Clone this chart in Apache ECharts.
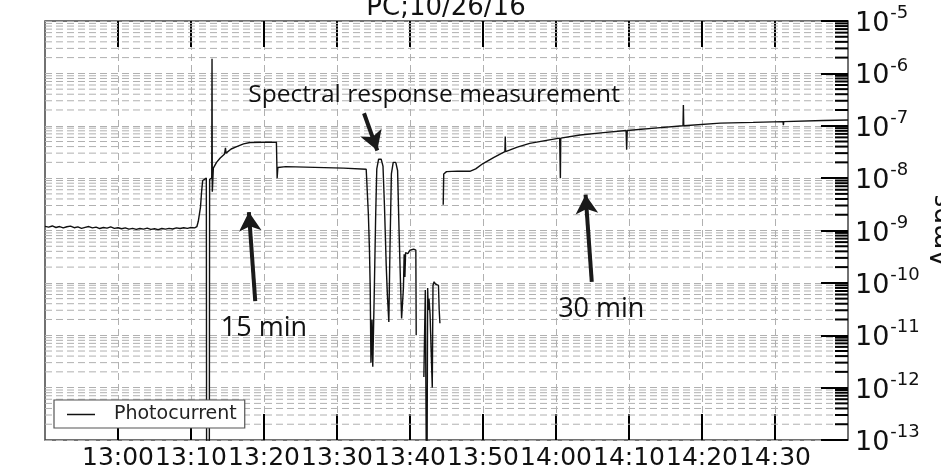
<!DOCTYPE html>
<html>
<head>
<meta charset="utf-8">
<title>PC;10/26/16</title>
<script src="https://cdn.jsdelivr.net/npm/echarts@6/dist/echarts.min.js"></script>
<style>
  html, body { margin: 0; padding: 0; background: #fff; }
  #chart { width: 941px; height: 469px; }
</style>
</head>
<body>
<div id="chart"></div>
<script>
// time in minutes after midnight (12:50 = 770), current in amps; null = gap in the record
const minutes = [
  770.0, 770.5, 771.0, 771.5, 772.0, 772.5, 773.0, 773.5, 774.0, 774.5,
  775.0, 775.5, 776.0, 776.5, 777.0, 777.5, 778.0, 778.5, 779.0, 779.5,
  780.0, 780.5, 781.0, 781.5, 782.0, 782.5, 783.0, 783.5, 784.0, 784.5,
  785.0, 785.5, 786.0, 786.5, 787.0, 787.5, 788.0, 788.5, 789.0, 789.5,
  790.0, 790.5, 790.8, 791.0, 791.3, 791.45, 791.6, 792.1, 792.15, 792.5,
  792.55, 792.84, 792.88, 792.92, 793.06, 793.5, 793.97, 794.6, 794.72, 794.8,
  795.5, 796.26, 797.2, 798.08, 799.9, 801.7, 801.8, 801.9, 803.0, 810.9,
  814.0, 814.3, 814.45, 814.55, 814.65, 814.8, 814.9, 815.1, 815.3, 815.45,
  815.7, 816.05, 816.3, 816.5, 816.75, 816.9, 817.1, 817.25, 817.45, 817.7,
  818.05, 818.3, 818.5, 818.7, 818.85, 819.1, 819.2, 819.3, 819.4, 819.7,
  820.0, 820.5, 820.8, 820.85, 821.3, 821.9, 822.1, 822.3, 822.42, 822.5,
  822.6, 822.75, 823.05, 823.15, 823.3, 823.5, 823.7, 823.9, 824.0, 824.1,
  824.3, 824.55, 824.62, 824.7, 825.0, 826.5, 828.2, 829.0, 830.0, 831.5,
  833.0, 833.05, 833.1, 834.7, 836.4, 838.5, 840.5, 840.6, 840.65, 843.3,
  846.5, 849.6, 849.68, 849.76, 853.5, 857.4, 857.45, 857.5, 862.5, 867.0,
  871.1, 871.15, 871.2, 876.6, 876.65, 876.7, 880.0
];
const amps = [
  1.20e-9, 1.16e-9, 1.22e-9, 1.14e-9, 1.19e-9, 1.12e-9, 1.18e-9, 1.21e-9, 1.13e-9, 1.17e-9,
  1.10e-9, 1.15e-9, 1.19e-9, 1.12e-9, 1.16e-9, 1.09e-9, 1.14e-9, 1.11e-9, 1.17e-9, 1.10e-9,
  1.13e-9, 1.08e-9, 1.12e-9, 1.06e-9, 1.10e-9, 1.05e-9, 1.09e-9, 1.06e-9, 1.11e-9, 1.05e-9,
  1.08e-9, 1.04e-9, 1.09e-9, 1.06e-9, 1.10e-9, 1.07e-9, 1.12e-9, 1.09e-9, 1.13e-9, 1.10e-9,
  1.14e-9, 1.12e-9, 1.18e-9, 1.5e-9, 2.8e-9, 5.5e-9, 9.0e-9, 1.0e-8, 1e-15, 1e-15,
  9.5e-9, 1.0e-8, 1.9e-6, 5.5e-9, 1.55e-8, 2.0e-8, 2.4e-8, 2.9e-8, 3.8e-8, 3.0e-8,
  3.6e-8, 4.0e-8, 4.5e-8, 4.8e-8, 4.85e-8, 4.85e-8, 1.0e-8, 1.6e-8, 1.66e-8, 1.55e-8,
  1.48e-8, 2e-9, 4e-10, 8e-11, 3e-12, 2e-11, 2.5e-12, 6e-11, 2e-9, 1.5e-8,
  2.3e-8, 2.3e-8, 1.7e-8, 3e-9, 2e-10, 6e-11, 1.8e-11, 4e-10, 1.2e-8, 2.0e-8,
  2.0e-8, 1.4e-8, 1e-9, 1e-10, 2.1e-11, 8e-11, 3.5e-10, 1.3e-10, 3.8e-10, 3.6e-10,
  4.2e-10, 4.4e-10, 4.2e-10, 1.0e-11, null, 1.6e-12, 7.3e-11, 1e-15, 8e-11, 3e-11,
  5e-11, 2.5e-11, 1.0e-12, 9e-11, 1.05e-10, 9.5e-11, 1.0e-10, 9e-11, 3e-11, 1.7e-11,
  null, 3.1e-9, 1.2e-8, 1.25e-8, 1.33e-8, 1.36e-8, 1.35e-8, 1.5e-8, 1.9e-8, 2.5e-8,
  3.2e-8, 6.2e-8, 3.2e-8, 3.9e-8, 4.6e-8, 5.2e-8, 5.8e-8, 1.0e-8, 5.8e-8, 6.65e-8,
  7.4e-8, 8.1e-8, 3.5e-8, 8.1e-8, 9.0e-8, 1.0e-7, 2.5e-7, 1.0e-7, 1.12e-7, 1.16e-7,
  1.2e-7, 1.02e-7, 1.2e-7, 1.26e-7, 1.2e-7, 1.26e-7, 1.29e-7
];

const xTickValues = [780, 790, 800, 810, 820, 830, 840, 850, 860, 870];

// annotation arrows (tail -> head) and texts, in data coordinates
const arrowFrom = [[813.7, 1.73e-7], [798.8, 4.5e-11], [844.9, 1.04e-10]];
const arrowTo = [[815.52, 3.37e-8], [797.93, 2.25e-9], [844.05, 4.83e-9]];
const noteText = ['Spectral response measurement', '15 min', '30 min'];
const notePos = [[823.3, 3.9e-7], [800.0, 1.37e-11], [846.2, 3.17e-11]];
const noteSize = [24.5, 27, 27];

// minor log gridlines 2..9 x 10^n
const minorValues = [];
for (let e = -13; e < -5; e++) {
  for (let k = 2; k <= 9; k++) minorValues.push(k * Math.pow(10, e));
}

const gridGray = '#b0b0b0';
const axisFont = 'DejaVu Sans';

const chart = echarts.init(document.getElementById('chart'));

const fmtTime = v => {
  const h = Math.floor(v / 60);
  const m = Math.round(v - h * 60);
  return h + ':' + (m < 10 ? '0' + m : m);
};

chart.setOption({
  animation: false,
  backgroundColor: '#fff',
  title: {
    text: 'PC;10/26/16',
    left: 446,
    top: -5,
    textAlign: 'center',
    padding: 0,
    textStyle: { fontFamily: axisFont, fontSize: 26, fontWeight: 'normal', color: '#111' }
  },
  grid: {
    left: 45, right: 93, top: 21, bottom: 29,
    outerBoundsMode: 'none',
    containLabel: false,
    show: true,
    borderColor: '#444',
    borderWidth: 1.5,
    backgroundColor: 'transparent'
  },
  legend: {
    data: ['Photocurrent'],
    left: 54,
    top: 400,
    icon: 'rect',
    itemWidth: 28,
    itemHeight: 1.5,
    padding: [5, 8, 4, 13],
    backgroundColor: '#fff',
    borderColor: '#555',
    borderWidth: 1.2,
    textStyle: { fontFamily: axisFont, fontSize: 19, color: '#222', padding: [0, 0, 0, 14] }
  },
  xAxis: [
    {
      type: 'value',
      min: 770,
      max: 880,
      interval: 10,
      axisLine: { show: false },
      axisTick: {
        show: true, inside: true, length: 26,
        customValues: xTickValues,
        lineStyle: { color: '#000', width: 2 }
      },
      axisLabel: {
        customValues: xTickValues,
        interval: 0,
        showMinLabel: true,
        showMaxLabel: true,
        hideOverlap: false,
        margin: 6,
        fontFamily: axisFont,
        fontSize: 25,
        color: '#111',
        formatter: fmtTime
      },
      splitLine: { show: true, lineStyle: { color: gridGray, type: [7, 4], width: 1 } }
    },
    {
      type: 'value',
      position: 'top',
      min: 770,
      max: 880,
      interval: 10,
      axisLine: { show: false },
      axisTick: {
        show: true, inside: true, length: 26,
        customValues: xTickValues,
        lineStyle: { color: '#000', width: 2 }
      },
      axisLabel: { show: false },
      splitLine: { show: false }
    }
  ],
  yAxis: {
    type: 'log',
    logBase: 10,
    position: 'right',
    min: 1e-13,
    max: 1e-5,
    interval: 1,
    splitNumber: 8,
    name: 'Amps',
    nameLocation: 'middle',
    nameRotate: 90,
    nameGap: 77,
    nameTextStyle: { fontFamily: axisFont, fontSize: 26, color: '#111' },
    axisLine: { show: false },
    axisTick: { show: true, inside: true, length: 27, lineStyle: { color: '#000', width: 2 } },
    axisLabel: {
      margin: 7,
      showMinLabel: true,
      showMaxLabel: true,
      formatter: v => '{b|10}{s|' + Math.round(Math.log10(v)) + '}',
      rich: {
        b: { fontFamily: axisFont, fontSize: 27, color: '#111', padding: [6, 0, 0, 0] },
        s: { fontFamily: axisFont, fontSize: 18, color: '#111', verticalAlign: 'top', padding: [0, 0, 14, 1] }
      }
    },
    splitLine: { show: true, lineStyle: { color: gridGray, type: [7, 4], width: 1 } }
  },
  series: [
    {
      type: 'custom',
      name: 'minor',
      silent: true,
      z: 1,
      data: minorValues.map(v => [770, v]),
      encode: { x: 0, y: 1 },
      renderItem: (params, api) => {
        const cs = params.coordSys;
        const y = api.coord([770, api.value(1)])[1];
        return {
          type: 'group',
          children: [
            {
              type: 'line',
              shape: { x1: cs.x, y1: y, x2: cs.x + cs.width, y2: y },
              style: { stroke: gridGray, lineWidth: 1, lineDash: [7, 4] }
            },
            {
              type: 'line',
              shape: { x1: cs.x + cs.width - 13, y1: y, x2: cs.x + cs.width, y2: y },
              style: { stroke: '#000', lineWidth: 2 }
            }
          ]
        };
      }
    },
    {
      type: 'line',
      name: 'Photocurrent',
      z: 3,
      showSymbol: false,
      sampling: 'none',
      data: minutes.map((m, i) => [m, amps[i]]),
      color: '#111',
      lineStyle: { color: '#111', width: 1.4 },
      markLine: {
        silent: true,
        animation: false,
        symbol: ['none', 'arrow'],
        symbolSize: [17, 19],
        lineStyle: { color: '#1a1a1a', width: 4, type: 'solid' },
        label: { show: false },
        data: arrowFrom.map((f, i) => [{ coord: f }, { coord: arrowTo[i] }])
      },
      markPoint: {
        silent: true,
        animation: false,
        symbol: 'rect',
        symbolSize: 1,
        itemStyle: { color: 'rgba(0,0,0,0)' },
        data: notePos.map((p, i) => ({
          coord: p,
          label: {
            show: true,
            position: 'inside',
            formatter: noteText[i],
            fontFamily: 'Open Sans',
            fontSize: noteSize[i],
            color: '#111'
          }
        }))
      }
    }
  ]
});
</script>
</body>
</html>
